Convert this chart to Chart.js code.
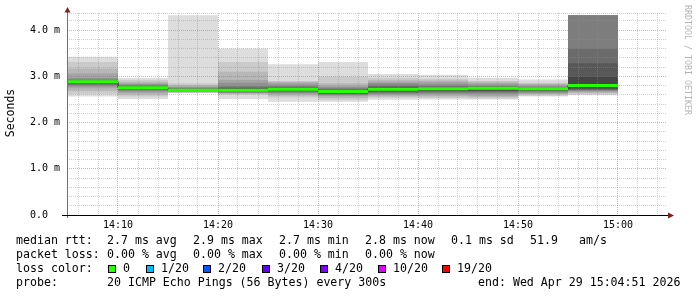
<!DOCTYPE html>
<html>
<head>
<meta charset="utf-8">
<script src="https://cdn.jsdelivr.net/npm/chart.js@4.4.0/dist/chart.umd.min.js"></script>
<style>
  html, body { margin: 0; padding: 0; background: #fff; }
  #wrap { width: 697px; height: 297px; position: relative; }
</style>
</head>
<body>
<div id="wrap"><canvas id="smokeChart"></canvas></div>
<script>
/* ── data (values in ms) ── */
const stepEnds = ['14:10', '14:15', '14:20', '14:25', '14:30', '14:35', '14:40', '14:45', '14:50', '14:55', '15:00'];
const median   = [2.88, 2.75, 2.70, 2.70, 2.72, 2.67, 2.72, 2.73, 2.74, 2.73, 2.80];

// 20 sorted ping times per 5-minute step
const p1410 = [2.56, 2.62, 2.68, 2.74, 2.78, 2.80, 2.82, 2.84, 2.86, 2.875, 2.885, 2.89, 2.90, 2.91, 2.93, 2.96, 3.06, 3.17, 3.31, 3.42];
const p1415 = [2.51, 2.56, 2.60, 2.64, 2.67, 2.69, 2.71, 2.72, 2.73, 2.745, 2.755, 2.77, 2.78, 2.79, 2.81, 2.83, 2.85, 2.88, 2.92, 2.96];
const p1420 = [2.63, 2.64, 2.65, 2.66, 2.67, 2.68, 2.685, 2.69, 2.695, 2.70, 2.705, 2.71, 2.72, 2.73, 2.74, 2.76, 2.78, 2.81, 2.85, 4.32];
const p1425 = [2.51, 2.60, 2.62, 2.63, 2.64, 2.65, 2.66, 2.67, 2.68, 2.69, 2.71, 2.72, 2.74, 2.76, 2.79, 2.86, 2.92, 3.10, 3.31, 3.60];
const p1430 = [2.45, 2.54, 2.58, 2.61, 2.63, 2.65, 2.67, 2.68, 2.69, 2.71, 2.73, 2.74, 2.75, 2.77, 2.79, 2.82, 2.86, 2.88, 2.90, 3.26];
const p1435 = [2.45, 2.49, 2.53, 2.57, 2.59, 2.60, 2.61, 2.62, 2.64, 2.66, 2.68, 2.69, 2.70, 2.72, 2.74, 2.77, 2.80, 2.85, 2.99, 3.31];
const p1440 = [2.49, 2.54, 2.56, 2.59, 2.61, 2.63, 2.65, 2.67, 2.69, 2.71, 2.73, 2.75, 2.77, 2.79, 2.82, 2.85, 2.88, 2.92, 2.96, 3.05];
const p1445 = [2.50, 2.53, 2.56, 2.59, 2.62, 2.64, 2.66, 2.68, 2.70, 2.72, 2.74, 2.75, 2.76, 2.78, 2.80, 2.84, 2.88, 2.91, 2.94, 3.03];
const p1450 = [2.50, 2.52, 2.55, 2.58, 2.61, 2.64, 2.66, 2.68, 2.70, 2.73, 2.75, 2.76, 2.77, 2.78, 2.79, 2.82, 2.85, 2.88, 2.90, 2.97];
const p1455 = [2.56, 2.58, 2.61, 2.62, 2.64, 2.66, 2.68, 2.69, 2.71, 2.725, 2.735, 2.745, 2.75, 2.76, 2.77, 2.79, 2.82, 2.84, 2.86, 2.93];
const p1500 = [2.59, 2.61, 2.64, 2.66, 2.68, 2.70, 2.71, 2.72, 2.74, 2.77, 2.83, 2.99, 3.28, 3.60, 4.32, 4.32, 4.32, 4.32, 4.32, 4.32];
const pings = [p1410, p1415, p1420, p1425, p1430, p1435, p1440, p1445, p1450, p1455, p1500];

const graphStart = '14:04:54';
const graphEnd   = '15:04:54';
const yTop = 4.3676;

const rttStats  = ['2.7 ms avg', '2.9 ms max', '2.7 ms min', '2.8 ms now', '0.1 ms sd', '51.9', 'am/s'];
const lossStats = ['0.00 % avg', '0.00 % max', '0.00 % min', '0.00 % now'];
const lossLabels = ['0', '1/20', '2/20', '3/20', '4/20', '10/20', '19/20'];
const lossColors = ['#26ff00', '#00b8ff', '#0059ff', '#5e00ff', '#7e00ff', '#dd00ff', '#ff0000'];
const probeText = '20 ICMP Echo Pings (56 Bytes) every 300s';
const endText = 'end: Wed Apr 29 15:04:51 2026';

/* ── helpers ── */
const toMin = t => {
  const [h, m, s] = t.split(':').map(Number);
  return (h - 14) * 60 + m + (s || 0) / 60;
};
const fmtMin = v => (14 + Math.floor(v / 60)) + ':' + String(v % 60).padStart(2, '0');
const MONO = '"DejaVu Sans Mono", monospace';
const isWhole = v => Math.abs(v - Math.round(v)) < 1e-6;
const GRID = 'rgba(143,143,143,0.42)';
const MGRID = 'rgba(222,79,79,0.48)';

/* ── build datasets ── */
function smokeShade(k) {
  const c = Math.floor(190 / 10 * (10 - k)) + 50;
  return `rgb(${c},${c},${c})`;
}

function buildDatasets() {
  const ends = stepEnds.map(toMin);
  const sets = [];

  // smoke bands: pair (k, 21-k), darker towards the middle
  for (let k = 1; k <= 10; k++) {
    sets.push({
      type: 'bar',
      stack: 'smoke',
      data: pings.map((p, i) => ({ x: ends[i] - 2.5, y: [p[k - 1], p[20 - k]] })),
      backgroundColor: smokeShade(k),
      borderWidth: 0,
      barPercentage: 1,
      categoryPercentage: 1,
      barThickness: 'flex',
      inflateAmount: 0,
      order: 12 - k,
    });
  }

  // thin dark median (gives the vertical joins)
  const medPts = median.map((m, i) => ({ x: ends[i] - 5, y: m }));
  medPts.push({ x: ends[ends.length - 1], y: median[median.length - 1] });
  sets.push({
    type: 'line',
    data: medPts,
    stepped: 'before',
    borderColor: '#1c1c1c',
    borderWidth: 1,
    pointRadius: 0,
    order: 1,
  });

  // loss coloured median, one flat piece per step
  const green = [];
  median.forEach((m, i) => {
    green.push({ x: ends[i] - 5, y: m }, { x: ends[i], y: m }, { x: ends[i], y: null });
  });
  sets.push({
    type: 'line',
    data: green,
    spanGaps: false,
    borderColor: lossColors[0],
    borderWidth: 3,
    borderCapStyle: 'butt',
    pointRadius: 0,
    order: 0,
  });
  return sets;
}

/* ── axes, arrows and legend text ── */
const rrdDecor = {
  id: 'rrdDecor',
  afterDraw(chart) {
    const { ctx, chartArea: a } = chart;
    ctx.save();

    // y axis + x axis
    ctx.strokeStyle = '#707070';
    ctx.lineWidth = 1;
    ctx.beginPath();
    ctx.moveTo(a.left + 0.5, a.bottom + 3);
    ctx.lineTo(a.left + 0.5, a.top - 4);
    ctx.stroke();
    ctx.strokeStyle = '#000';
    ctx.beginPath();
    ctx.moveTo(a.left - 5, a.bottom + 0.5);
    ctx.lineTo(a.right + 1, a.bottom + 0.5);
    ctx.stroke();

    // arrows
    ctx.fillStyle = '#801f1f';
    ctx.beginPath();
    ctx.moveTo(a.left - 2.5, a.top - 0.5);
    ctx.lineTo(a.left + 3.5, a.top - 0.5);
    ctx.lineTo(a.left + 0.5, a.top - 6);
    ctx.closePath();
    ctx.fill();
    ctx.beginPath();
    ctx.moveTo(a.right + 1, a.bottom - 2.5);
    ctx.lineTo(a.right + 1, a.bottom + 3.5);
    ctx.lineTo(a.right + 7, a.bottom + 0.5);
    ctx.closePath();
    ctx.fill();

    // vertical titles
    ctx.fillStyle = '#000';
    ctx.font = '11.5px ' + MONO;
    ctx.textAlign = 'center';
    ctx.textBaseline = 'middle';
    ctx.save();
    ctx.translate(11, 113);
    ctx.rotate(-Math.PI / 2);
    ctx.fillText('Seconds', 0, 0);
    ctx.restore();

    ctx.save();
    ctx.fillStyle = '#b4b4b4';
    ctx.font = '8.3px ' + MONO;
    ctx.translate(687, 60);
    ctx.rotate(Math.PI / 2);
    ctx.fillText('RRDTOOL / TOBI OETIKER', 0, 0);
    ctx.restore();

    // legend
    ctx.font = '11.6px ' + MONO;
    ctx.textAlign = 'left';
    ctx.fillStyle = '#000';
    const cols = [107, 193, 279, 365, 451, 530, 579];
    ctx.fillText('median rtt:', 16, 241);
    rttStats.forEach((s, i) => ctx.fillText(s, cols[i], 241));
    ctx.fillText('packet loss:', 16, 255);
    lossStats.forEach((s, i) => ctx.fillText(s, cols[i], 255));
    ctx.fillText('loss color:', 16, 269);
    const sq = [108, 146, 203, 262, 320, 378, 442];
    lossLabels.forEach((lab, i) => {
      ctx.fillStyle = lossColors[i];
      ctx.fillRect(sq[i], 265, 8, 8);
      ctx.strokeStyle = '#000';
      ctx.strokeRect(sq[i] + 0.5, 265.5, 7, 7);
      ctx.fillStyle = '#000';
      ctx.fillText(lab, sq[i] + 15, 269);
    });
    ctx.fillText('probe:', 16, 283);
    ctx.fillText(probeText, 107, 283);
    ctx.fillText(endText, 478, 283);

    ctx.restore();
  },
};

/* ── chart ── */
function initSmokeChart() {
  const ctx = document.getElementById('smokeChart').getContext('2d');
  new Chart(ctx, {
    type: 'bar',
    data: { datasets: buildDatasets() },
    plugins: [rrdDecor],
    options: {
      responsive: true,
      maintainAspectRatio: false,
      animation: false,
      events: [],
      layout: { padding: { top: 13, right: 30, left: 0, bottom: 0 } },
      plugins: { legend: { display: false }, tooltip: { enabled: false } },
      scales: {
        x: {
          type: 'linear',
          offset: false,
          min: toMin(graphStart),
          max: toMin(graphEnd),
          afterBuildTicks: s => {
            s.ticks = [];
            for (let m = 6; m <= 64; m += 2) s.ticks.push({ value: m });
          },
          afterFit: s => { s.height = 82; s.paddingLeft = 0; s.paddingRight = 0; },
          ticks: {
            autoSkip: false,
            maxRotation: 0,
            padding: 4,
            color: '#000',
            font: { family: MONO, size: 10 },
            callback: v => (v % 10 === 0 ? fmtMin(v) : ''),
          },
          grid: {
            drawTicks: false,
            offset: false,
            z: 1,
            color: c => (c.tick && c.tick.value % 10 === 0 ? MGRID : GRID),
          },
          border: { display: false, dash: [1, 1] },
        },
        y: {
          type: 'linear',
          stacked: false,
          min: 0,
          max: yTop,
          afterBuildTicks: s => {
            s.ticks = [];
            for (let i = 0; i <= 21; i++) s.ticks.push({ value: i / 5 });
            s.ticks.push({ value: yTop });
          },
          afterFit: s => { s.width = 67; s.paddingTop = 0; s.paddingBottom = 0; },
          ticks: {
            autoSkip: false,
            padding: 7,
            color: '#000',
            font: { family: MONO, size: 10 },
            callback: v => (v >= yTop || !isWhole(v) ? '' : v === 0 ? '0.0  ' : v.toFixed(1) + ' m'),
          },
          grid: {
            drawTicks: false,
            z: 1,
            color: c => (c.tick && c.tick.value < yTop && isWhole(c.tick.value) ? MGRID : GRID),
          },
          border: { display: false, dash: [1, 1] },
        },
      },
    },
  });
}

initSmokeChart();
</script>
</body>
</html>
